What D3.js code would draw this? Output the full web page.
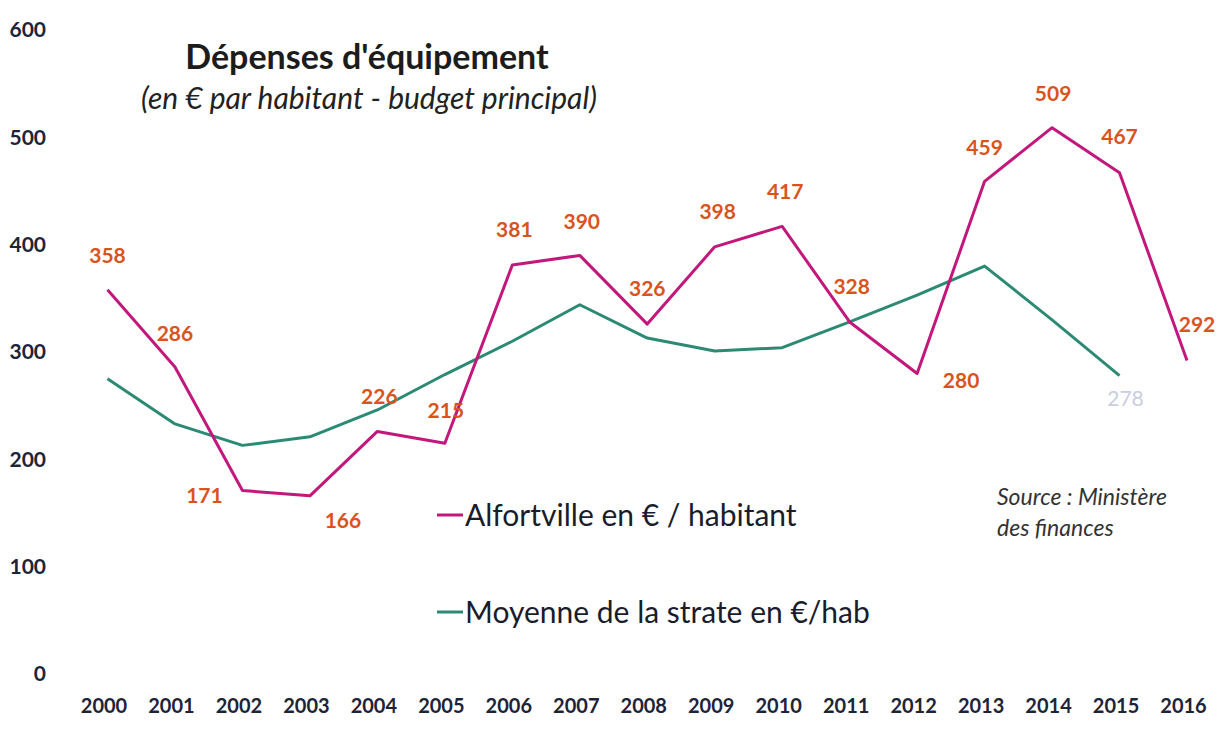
<!DOCTYPE html>
<html>
<head>
<meta charset="utf-8">
<script src="https://cdn.jsdelivr.net/npm/d3@7"></script>
<style>
  body { margin: 0; background: #fff; }
  text { font-family: Lato, "Open Sans", sans-serif; }
</style>
</head>
<body>
<div id="chart"></div>
<script>
// data
var years = ["2000","2001","2002","2003","2004","2005","2006","2007","2008","2009","2010","2011","2012","2013","2014","2015","2016"];
var alfortville = [358, 286, 171, 166, 226, 215, 381, 390, 326, 398, 417, 328, 280, 459, 509, 467, 292];
var moyenne = [275, 233, 213, 221, 246, 279, 310, 344, 313, 301, 304, 328, 353, 380, 330, 278];
var yTicks = [0, 100, 200, 300, 400, 500, 600];
// label placement (dx, dy from the point)
var labelOffsets = [[0,-34],[0,-33],[-38,5],[33,25],[2,-35],[1,-33],[2,-35],[2,-34],[0,-35],[3,-35],[3,-35],[2,-35],[44,7],[0,-34],[1,-34],[0,-36],[10,-36]];

var width = 1223, height = 731;
var svg = d3.select("#chart").append("svg")
    .attr("width", width)
    .attr("height", height);

var x = d3.scalePoint().domain(years).range([107.5, 1187]);
var y = d3.scaleLinear().domain([0, 600]).range([674, 30]);

var axisColor = "#1e2438";
var pink = "#c2177b";
var green = "#2c8a74";
var labelColor = "#d9541c";

// y axis labels
var yAxis = d3.axisLeft(y).tickValues(yTicks).tickSize(0).tickPadding(0);
var gy = svg.append("g").attr("transform", "translate(46,0)").call(yAxis);
gy.select(".domain").remove();
gy.selectAll("text")
    .attr("fill", axisColor)
    .style("font-size", "21px")
    .style("font-weight", "bold");

// x axis labels
var xAxis = d3.axisBottom(x).tickSize(0).tickPadding(0);
var gx = svg.append("g").attr("transform", "translate(-4,699)").call(xAxis);
gx.select(".domain").remove();
gx.selectAll("text")
    .attr("fill", axisColor)
    .style("font-size", "20px")
    .style("font-weight", "bold");

var line = d3.line()
    .x(function(d, i) { return x(years[i]); })
    .y(function(d) { return y(d); });

svg.append("path")
    .datum(moyenne)
    .attr("fill", "none")
    .attr("stroke", green)
    .attr("stroke-width", 3)
    .attr("stroke-linejoin", "round")
    .attr("d", line);

svg.append("path")
    .datum(alfortville)
    .attr("fill", "none")
    .attr("stroke", pink)
    .attr("stroke-width", 3)
    .attr("stroke-linejoin", "round")
    .attr("d", line);

// data labels
svg.append("g").selectAll("text")
    .data(alfortville)
    .enter().append("text")
    .attr("x", function(d, i) { return x(years[i]) + labelOffsets[i][0]; })
    .attr("y", function(d, i) { return y(d) + labelOffsets[i][1]; })
    .attr("text-anchor", "middle")
    .attr("dy", "0.35em")
    .attr("fill", labelColor)
    .style("font-size", "21px")
    .style("font-weight", "bold")
    .text(function(d) { return d; });

// last value of the average
var last = moyenne.length - 1;
svg.append("text")
    .attr("x", x(years[last]) + 6)
    .attr("y", y(moyenne[last]) + 23)
    .attr("dy", "0.35em")
    .attr("text-anchor", "middle")
    .attr("fill", "#c9cde0")
    .style("font-size", "21px")
    .text(moyenne[last]);

// title
svg.append("text")
    .attr("x", 367).attr("y", 69)
    .attr("text-anchor", "middle")
    .attr("fill", "#1c1c1c")
    .style("font-size", "34px")
    .style("font-weight", "bold")
    .text("Dépenses d'équipement");

svg.append("text")
    .attr("x", 369).attr("y", 109)
    .attr("text-anchor", "middle")
    .attr("fill", "#222")
    .style("font-size", "30px")
    .style("font-style", "italic")
    .text("(en € par habitant - budget principal)");

// legend
var legend = [
  {name: "Alfortville en € / habitant", color: pink, y: 515},
  {name: "Moyenne de la strate en €/hab", color: green, y: 612}
];
var lg = svg.append("g").selectAll("g").data(legend).enter().append("g");
lg.append("line")
    .attr("x1", 437).attr("x2", 463)
    .attr("y1", function(d) { return d.y; })
    .attr("y2", function(d) { return d.y; })
    .attr("stroke", function(d) { return d.color; })
    .attr("stroke-width", 3);
lg.append("text")
    .attr("x", 465)
    .attr("y", function(d) { return d.y; })
    .attr("dy", "0.35em")
    .attr("fill", "#1a1c2c")
    .style("font-size", "30px")
    .text(function(d) { return d.name; });

// source
svg.append("text")
    .attr("x", 997).attr("y", 505)
    .attr("fill", "#333")
    .style("font-size", "23px")
    .style("font-style", "italic")
    .text("Source : Ministère");
svg.append("text")
    .attr("x", 997).attr("y", 536)
    .attr("fill", "#333")
    .style("font-size", "23px")
    .style("font-style", "italic")
    .text("des finances");
</script>
</body>
</html>
